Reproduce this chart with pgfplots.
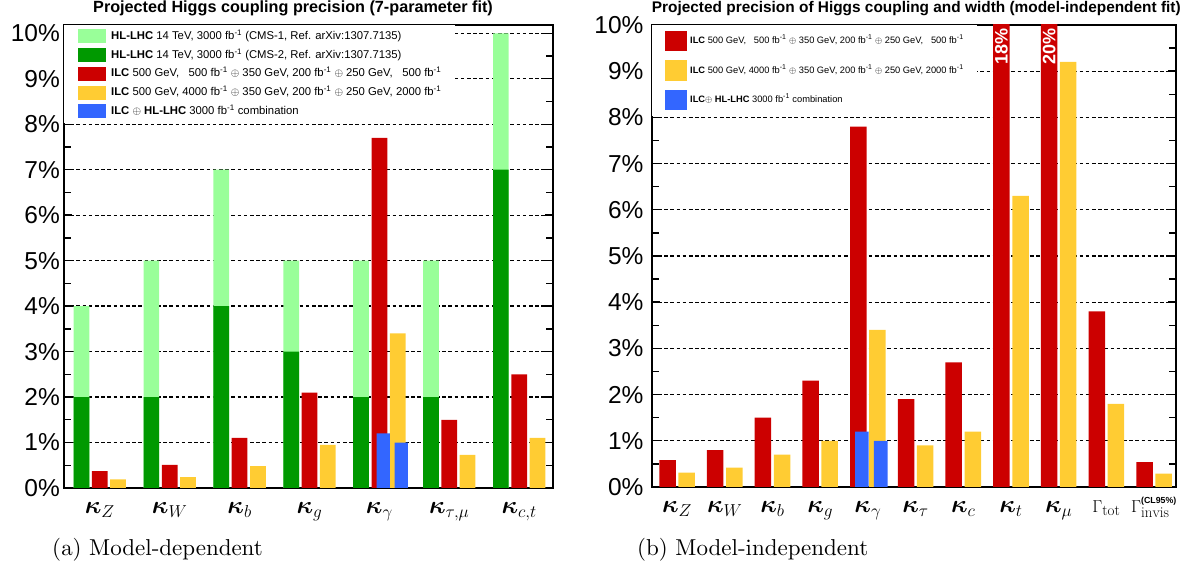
\documentclass[border=0pt]{standalone}
\usepackage{pgfplots}
\pgfplotsset{compat=1.18}
\usepackage{fontspec}
\usepackage{bm}
\newfontfamily\arial{Liberation Sans}
\font\capfont=cmr10 at 23pt
\DeclareMathSizes{24}{24}{18}{14}
\DeclareMathSizes{17}{17}{15}{12}
\DeclareMathSizes{11.3}{11.3}{8}{6}
\DeclareMathSizes{9.3}{9.3}{7}{5}

\definecolor{lgreen}{RGB}{153,255,153}
\definecolor{dgreen}{RGB}{0,153,0}
\definecolor{ilcred}{RGB}{204,0,0}
\definecolor{ilcyel}{RGB}{255,204,51}
\definecolor{ilcblue}{RGB}{51,102,255}

\pgfplotsset{
  precbase/.style={
    scale only axis, anchor=south west,
    ymin=0, enlargelimits=false, clip=true,
    axis line style={line width=2pt},
    ytick={0,1,...,10},
    yticklabels={0\%,1\%,2\%,3\%,4\%,5\%,6\%,7\%,8\%,9\%,10\%},
    minor y tick num=1,
    major tick length=8pt, minor tick length=7pt,
    ytick style={line width=1.4pt, black},
    minor y tick style={line width=1.4pt, black},
    xtick style={draw=none},
    ymajorgrids,
    major grid style={black, line width=1.3pt, dash pattern=on 3.6pt off 2.6pt},
    yticklabel style={font=\arial\fontsize{24.5}{24.5}\selectfont, inner sep=0pt, anchor=east},
    xticklabel style={font=\fontsize{24}{24}\selectfont, anchor=base, inner sep=0pt, yshift=-25.7pt},
    legend cell align=left,
  },
}

\begin{document}
\begin{tikzpicture}
\useasboundingbox (0pt,0pt) rectangle (1200pt,573pt);

% ---------- (a) 7-parameter fit ----------
\begin{axis}[precbase,
  at={(64pt,85pt)}, width=489.3pt, height=463.3pt,
  xmin=-0.512, xmax=6.488, ymax=10.19,
  yticklabel style={xshift=-4pt},
  xtick={0,...,6},
  xticklabels={$\bm{\kappa}_{Z}$,$\bm{\kappa}_{W}$,$\bm{\kappa}_{b}$,$\bm{\kappa}_{g}$,$\bm{\kappa}_{\gamma}$,{$\bm{\kappa}_{\tau,\mu}$},{$\bm{\kappa}_{c,t}$}},
  legend image code/.code={\fill[#1] (0pt,-7pt) rectangle (28pt,7pt);},
  legend style={at={(axis description cs:0,1)}, anchor=north west, draw=none, fill=white,
    inner xsep=14pt, inner ysep=4.4pt, row sep=4.8pt, column sep=5pt,
    font=\arial\fontsize{11.3}{11.3}\selectfont,
    nodes={inner sep=0pt, text height=8.3pt, text depth=2.4pt}},
]
% HL-LHC CMS-1 (total) and CMS-2 (drawn over it)
\addplot[ybar, bar width=0.225, bar shift=-0.262, fill=lgreen, draw=none, forget plot]
  coordinates {(0,4) (1,5) (2,7) (3,5) (4,5) (5,5) (6,10)};
\addplot[ybar, bar width=0.225, bar shift=-0.262, fill=dgreen, draw=none, forget plot]
  coordinates {(0,2) (1,2) (2,4) (3,3) (4,2) (5,2) (6,7)};
% ILC, baseline luminosity
\addplot[ybar, bar width=0.225, bar shift=0, fill=ilcred, draw=none, forget plot]
  coordinates {(0,0.37) (1,0.51) (2,1.1) (3,2.1) (4,7.7) (5,1.5) (6,2.5)};
% ILC, luminosity upgrade
\addplot[ybar, bar width=0.225, bar shift=0.262, fill=ilcyel, draw=none, forget plot]
  coordinates {(0,0.19) (1,0.24) (2,0.48) (3,0.95) (4,3.4) (5,0.73) (6,1.1)};
% ILC + HL-LHC combination
\addplot[ybar, bar width=0.19, bar shift=0, fill=ilcblue, draw=none, forget plot]
  coordinates {(4.056,1.2) (4.313,1.0)};

\addlegendimage{fill=lgreen, draw=none}
\addlegendentry{\textbf{HL-LHC} 14 TeV, 3000 fb\textsuperscript{-1} (CMS-1, Ref. arXiv:1307.7135)}
\addlegendimage{fill=dgreen, draw=none}
\addlegendentry{\textbf{HL-LHC} 14 TeV, 3000 fb\textsuperscript{-1} (CMS-2, Ref. arXiv:1307.7135)}
\addlegendimage{fill=ilcred, draw=none}
\addlegendentry{\textbf{ILC} 500 GeV, \hphantom{0}500 fb\textsuperscript{-1} $\oplus$ 350 GeV, 200 fb\textsuperscript{-1} $\oplus$ 250 GeV, \hphantom{0}500 fb\textsuperscript{-1}}
\addlegendimage{fill=ilcyel, draw=none}
\addlegendentry{\textbf{ILC} 500 GeV, 4000 fb\textsuperscript{-1} $\oplus$ 350 GeV, 200 fb\textsuperscript{-1} $\oplus$ 250 GeV, 2000 fb\textsuperscript{-1}}
\addlegendimage{fill=ilcblue, draw=none}
\addlegendentry{\textbf{ILC} $\oplus$ \textbf{HL-LHC} 3000 fb\textsuperscript{-1} combination}
\end{axis}

% ---------- (b) model-independent fit ----------
\begin{axis}[precbase,
  at={(651.7pt,86pt)}, width=524.3pt, height=462pt,
  xmin=-0.532, xmax=10.46, ymax=10,
  yticklabel style={xshift=-8pt},
  xtick={0,...,10},
  xticklabels={$\bm{\kappa}_{Z}$,$\bm{\kappa}_{W}$,$\bm{\kappa}_{b}$,$\bm{\kappa}_{g}$,$\bm{\kappa}_{\gamma}$,$\bm{\kappa}_{\tau}$,$\bm{\kappa}_{c}$,$\bm{\kappa}_{t}$,$\bm{\kappa}_{\mu}$,
    {\fontsize{17}{17}\selectfont$\Gamma_{\mathrm{tot}}$},
    {\fontsize{17}{17}\selectfont$\Gamma^{\raisebox{3pt}{\arial\bfseries\fontsize{8.8}{8.8}\selectfont(CL95\%)}}_{\mathrm{invis}}$}},
  legend image code/.code={\fill[#1] (0pt,-10.35pt) rectangle (21.7pt,10.35pt);},
  legend style={at={(axis description cs:0,1)}, anchor=north west, draw=none, fill=white,
    inner xsep=13.3pt, inner ysep=5.5pt, row sep=8.8pt, column sep=3.3pt,
    font=\arial\fontsize{9.3}{9.3}\selectfont,
    nodes={inner sep=0pt, text height=7pt, text depth=2pt}},
]
% ILC, baseline luminosity
\addplot[ybar, bar width=0.346, bar shift=-0.2, fill=ilcred, draw=none, forget plot]
  coordinates {(0,0.58) (1,0.80) (2,1.5) (3,2.3) (4,7.8) (5,1.9) (6,2.7) (7,18) (8,20) (9,3.8) (10,0.54)};
% ILC, luminosity upgrade
\addplot[ybar, bar width=0.346, bar shift=0.2, fill=ilcyel, draw=none, forget plot]
  coordinates {(0,0.31) (1,0.42) (2,0.70) (3,1.0) (4,3.4) (5,0.90) (6,1.2) (7,6.3) (8,9.2) (9,1.8) (10,0.29)};
% ILC + HL-LHC combination
\addplot[ybar, bar width=0.287, bar shift=0, fill=ilcblue, draw=none, forget plot]
  coordinates {(3.874,1.2) (4.268,1.0)};

% values of the off-scale bars
\node[rotate=90, text=white, font=\arial\bfseries\fontsize{18}{18}\selectfont] at (axis cs:6.8,9.53) {18\%};
\node[rotate=90, text=white, font=\arial\bfseries\fontsize{18}{18}\selectfont] at (axis cs:7.8,9.53) {20\%};

\addlegendimage{fill=ilcred, draw=none}
\addlegendentry{\textbf{ILC} 500 GeV, \hphantom{0}500 fb\textsuperscript{-1} $\oplus$ 350 GeV, 200 fb\textsuperscript{-1} $\oplus$ 250 GeV, \hphantom{0}500 fb\textsuperscript{-1}}
\addlegendimage{fill=ilcyel, draw=none}
\addlegendentry{\textbf{ILC} 500 GeV, 4000 fb\textsuperscript{-1} $\oplus$ 350 GeV, 200 fb\textsuperscript{-1} $\oplus$ 250 GeV, 2000 fb\textsuperscript{-1}}
\addlegendimage{fill=ilcblue, draw=none}
\addlegendentry{\textbf{ILC}$\oplus$ \textbf{HL-LHC} 3000 fb\textsuperscript{-1} combination}
\end{axis}

% panel titles
\node[anchor=base west, inner sep=0pt, font=\arial\bfseries\fontsize{16.2}{16.2}\selectfont] at (93pt,560.3pt)
  {Projected Higgs coupling precision (7-parameter fit)};
\node[anchor=base west, inner sep=0pt, font=\arial\bfseries\fontsize{15.4}{15.4}\selectfont] at (651.7pt,560.3pt)
  {Projected precision of Higgs coupling and width (model-independent fit)};

% sub-captions
\node[anchor=base west, inner sep=0pt] at (52pt,17pt) {\capfont (a) Model-dependent};
\node[anchor=base west, inner sep=0pt] at (637pt,17pt) {\capfont (b) Model-independent};
\end{tikzpicture}
\end{document}
